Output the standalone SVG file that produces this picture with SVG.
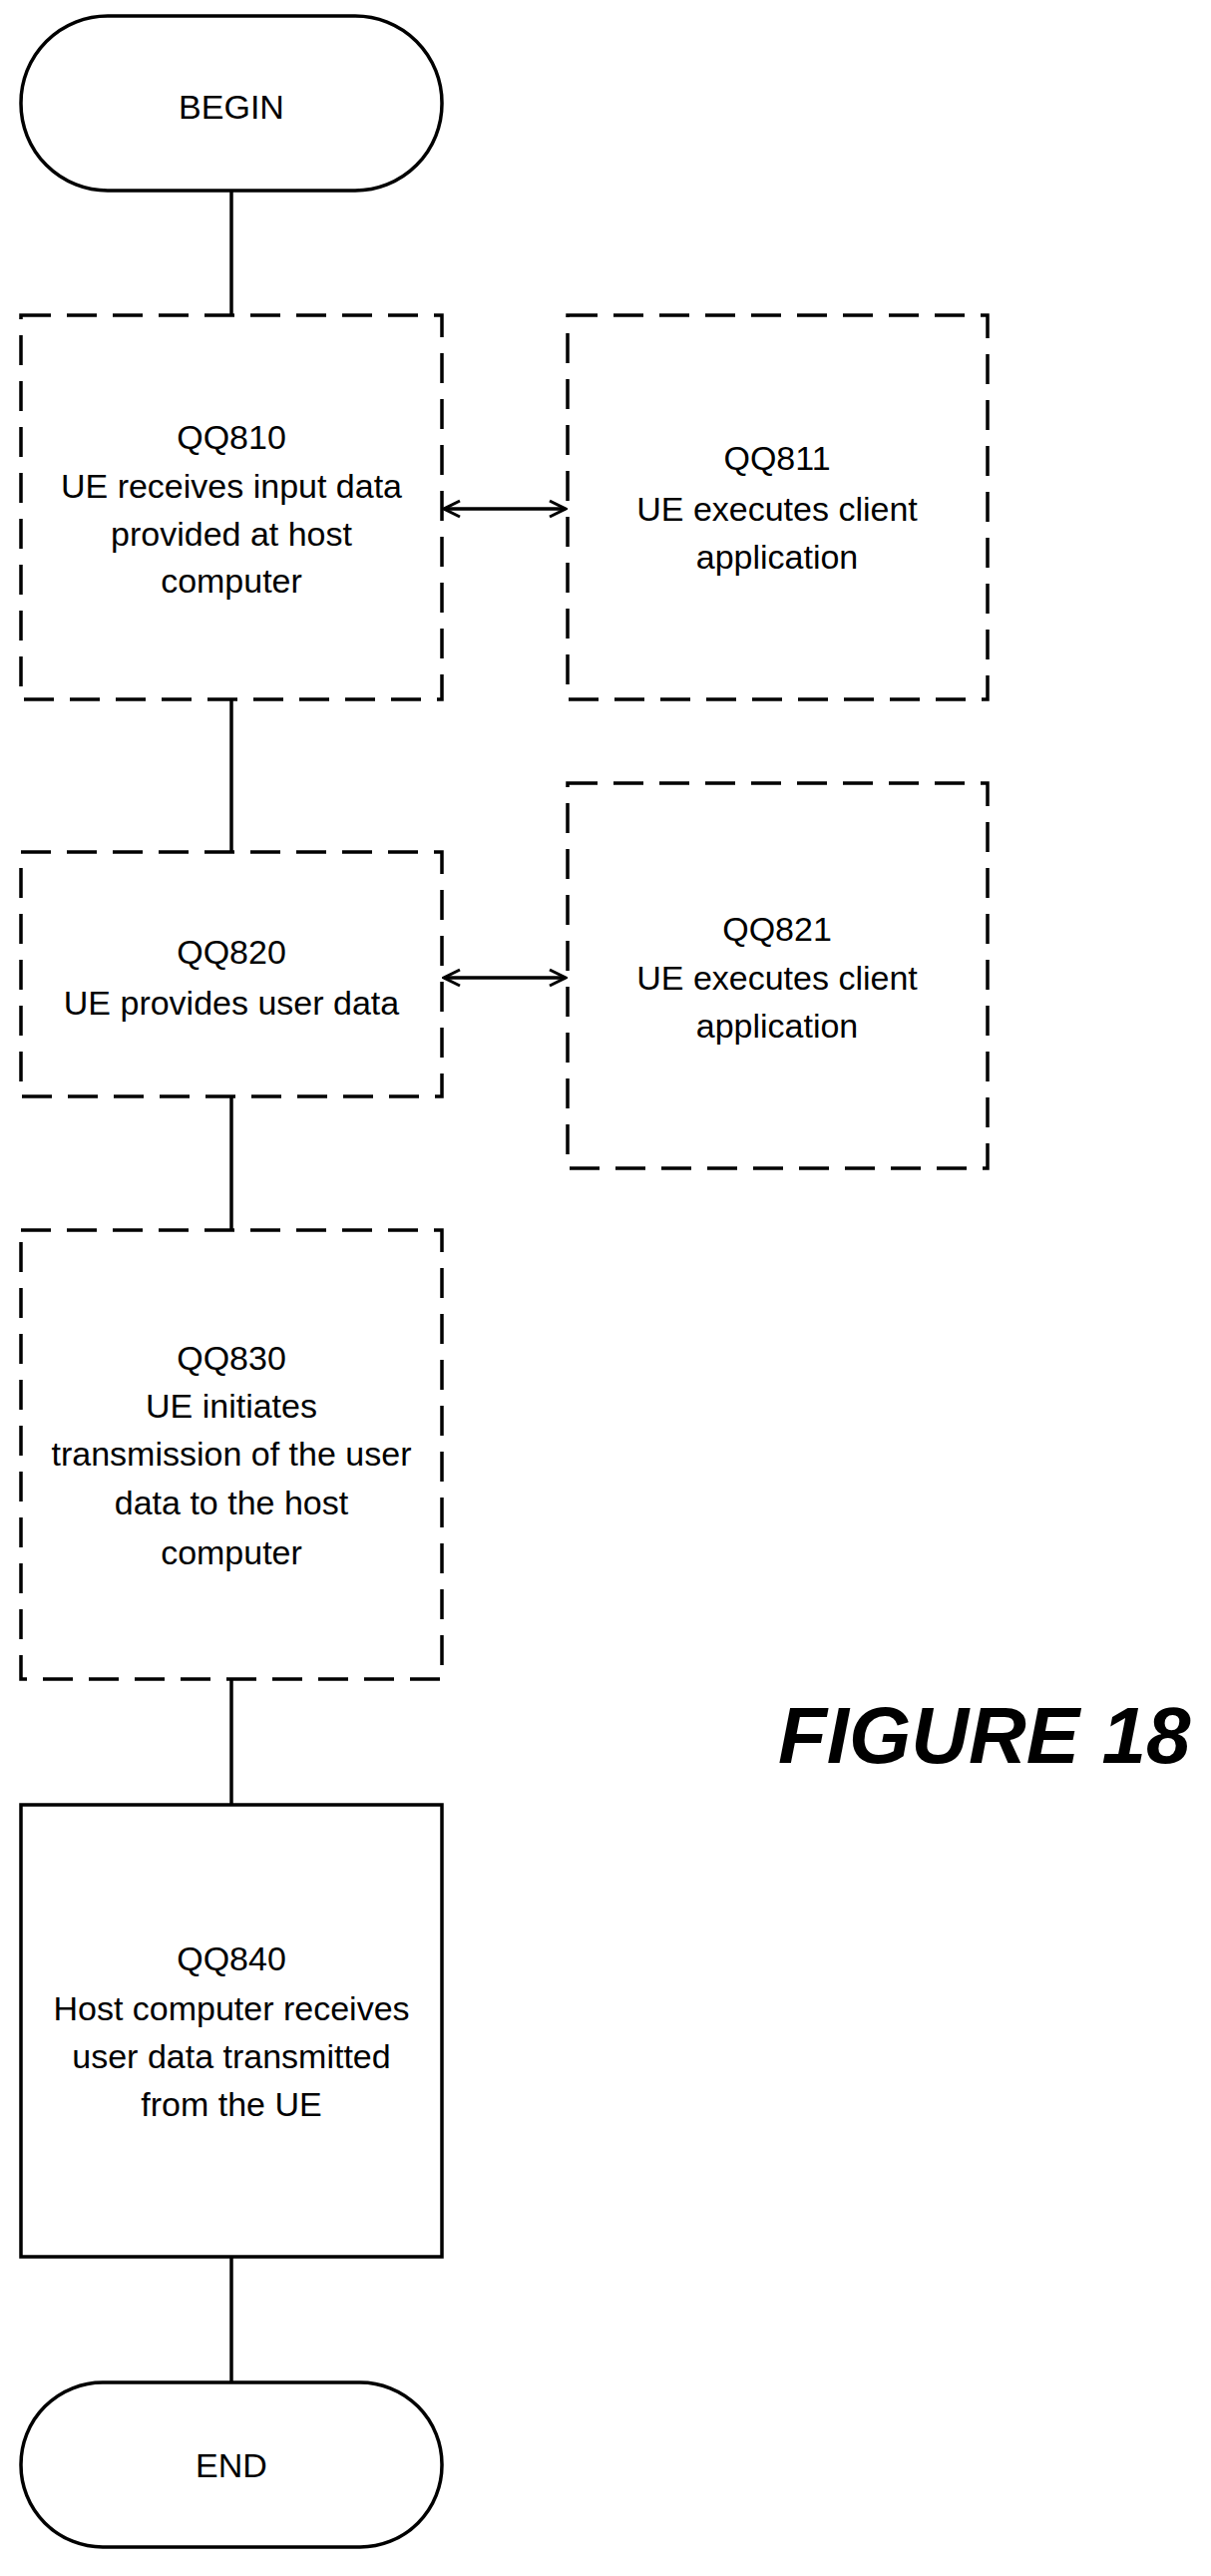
<svg xmlns="http://www.w3.org/2000/svg" width="1214" height="2582" viewBox="0 0 1214 2582">
<style>
.s{fill:#fff;stroke:#000;stroke-width:3.5}
.d{stroke-dasharray:30 16}
text{font-family:"Liberation Sans",Arial,sans-serif;font-size:34px;text-anchor:middle;dominant-baseline:central;fill:#000}
.c{stroke:#000;stroke-width:3.5;fill:none}
.fig{font-size:80px;font-weight:bold;font-style:italic;text-anchor:start;dominant-baseline:auto}
</style>
<defs>
<marker id="a" viewBox="0 0 20 20" refX="18" refY="10" markerWidth="20" markerHeight="20" markerUnits="userSpaceOnUse" orient="auto-start-reverse">
<path d="M2 2 L18 10 L2 18" fill="none" stroke="#000" stroke-width="3"/>
</marker>
</defs>
<g id="connectors">
<line class="c" x1="232" y1="191" x2="232" y2="316"/>
<line class="c" x1="232" y1="701" x2="232" y2="854"/>
<line class="c" x1="232" y1="1099" x2="232" y2="1233"/>
<line class="c" x1="232" y1="1683" x2="232" y2="1809"/>
<line class="c" x1="232" y1="2262" x2="232" y2="2388"/>
<line class="c" x1="445" y1="510" x2="567" y2="510" marker-start="url(#a)" marker-end="url(#a)"/>
<line class="c" x1="445" y1="980" x2="567" y2="980" marker-start="url(#a)" marker-end="url(#a)"/>
</g>
<g id="begin"><rect class="s" x="21" y="16" width="422" height="175" rx="87"/><text x="232" y="107">BEGIN</text></g>
<g id="qq810"><rect class="s d" x="21" y="316" width="422" height="385"/>
<text x="232" y="438">QQ810</text><text x="232" y="487">UE receives input data</text><text x="232" y="535">provided at host</text><text x="232" y="582">computer</text></g>
<g id="qq811"><rect class="s d" x="569" y="316" width="421" height="385"/>
<text x="779" y="459">QQ811</text><text x="779" y="510">UE executes client</text><text x="779" y="558">application</text></g>
<g id="qq820"><rect class="s d" x="21" y="854" width="422" height="245"/>
<text x="232" y="954">QQ820</text><text x="232" y="1005">UE provides user data</text></g>
<g id="qq821"><rect class="s d" x="569" y="785" width="421" height="386"/>
<text x="779" y="931">QQ821</text><text x="779" y="980">UE executes client</text><text x="779" y="1028">application</text></g>
<g id="qq830"><rect class="s d" x="21" y="1233" width="422" height="450"/>
<text x="232" y="1361">QQ830</text><text x="232" y="1409">UE initiates</text><text x="232" y="1457">transmission of the user</text><text x="232" y="1506">data to the host</text><text x="232" y="1556">computer</text></g>
<g id="qq840"><rect class="s" x="21" y="1809" width="422" height="453"/>
<text x="232" y="1963">QQ840</text><text x="232" y="2013">Host computer receives</text><text x="232" y="2061">user data transmitted</text><text x="232" y="2109">from the UE</text></g>
<g id="end"><rect class="s" x="21" y="2388" width="422" height="165" rx="82"/><text x="232" y="2471">END</text></g>
<text class="fig" x="780" y="1767">FIGURE 18</text>
</svg>
